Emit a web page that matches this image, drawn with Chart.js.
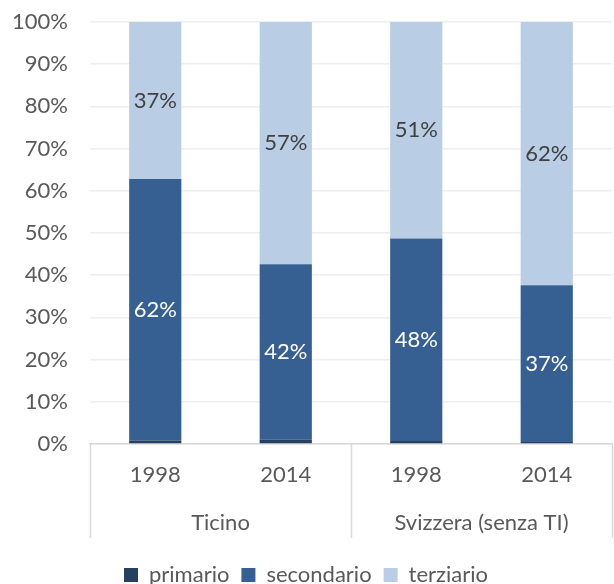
<!DOCTYPE html>
<html>
<head>
<meta charset="utf-8">
<script src="https://cdn.jsdelivr.net/npm/chart.js@4.4.1/dist/chart.umd.min.js"></script>
<style>
  html, body { margin: 0; padding: 0; background: #ffffff; }
  #wrap { width: 614px; height: 584px; position: relative; }
</style>
</head>
<body>
<div id="wrap"><canvas id="c" width="614" height="584"></canvas></div>
<script>
const years = ['1998', '2014', '1998', '2014'];
const groups = ['Ticino', 'Svizzera (senza TI)'];
const seriesNames = ['primario', 'secondario', 'terziario'];
const primario = [0.8, 1.0, 0.7, 0.5];
const secondario = [62.0, 41.6, 48.0, 37.1];
const terziario = [37.2, 57.4, 51.3, 62.4];
const yTicks = [0, 10, 20, 30, 40, 50, 60, 70, 80, 90, 100];

const FONT = 'Lato';
const TXT = '#595959';

const dataLabels = {
  id: 'dataLabels',
  afterDatasetsDraw(chart) {
    const ctx = chart.ctx;
    ctx.save();
    ctx.font = '22px ' + FONT;
    ctx.textAlign = 'center';
    ctx.textBaseline = 'middle';
    [1, 2].forEach(di => {
      const meta = chart.getDatasetMeta(di);
      const ds = chart.data.datasets[di];
      meta.data.forEach((bar, i) => {
        const v = ds.data[i];
        ctx.fillStyle = di === 1 ? '#ffffff' : '#404040';
        ctx.fillText(Math.round(v) + '%', bar.x, (bar.y + bar.base) / 2);
      });
    });
    ctx.restore();
  }
};

const groupLines = {
  id: 'groupLines',
  afterDraw(chart) {
    const x = chart.scales.x, x2 = chart.scales.x2;
    const ctx = chart.ctx;
    const mid = (x.getPixelForValue(1) + x.getPixelForValue(2)) / 2;
    ctx.save();
    ctx.strokeStyle = '#d9d9d9';
    ctx.lineWidth = 1.5;
    [x.left, mid, x.right].forEach(px => {
      ctx.beginPath();
      ctx.moveTo(Math.round(px) + 0.5, x.top);
      ctx.lineTo(Math.round(px) + 0.5, x2.top + 37);
      ctx.stroke();
    });
    ctx.restore();
  }
};

new Chart(document.getElementById('c'), {
  type: 'bar',
  data: {
    labels: years,
    datasets: [
      { label: seriesNames[0], data: primario, backgroundColor: '#254061', xAxisID: 'x' },
      { label: seriesNames[1], data: secondario, backgroundColor: '#376092', xAxisID: 'x' },
      { label: seriesNames[2], data: terziario, backgroundColor: '#b9cde5', xAxisID: 'x' }
    ]
  },
  options: {
    responsive: false,
    animation: false,
    devicePixelRatio: 1,
    barPercentage: 0.4,
    categoryPercentage: 1.0,
    layout: { padding: { top: 22, right: 2, left: 0, bottom: -12 } },
    plugins: {
      legend: {
        position: 'bottom',
        labels: {
          font: { family: FONT, size: 22 },
          color: TXT,
          boxWidth: 14,
          boxHeight: 14,
          padding: 12
        }
      },
      tooltip: { enabled: false }
    },
    scales: {
      x: {
        stacked: true,
        weight: 0,
        grid: { display: false },
        border: { display: true, color: '#d9d9d9', width: 1.5 },
        ticks: { font: { family: FONT, size: 22 }, color: TXT, padding: 10, maxRotation: 0 },
        afterFit(s) { s.height = 57; }
      },
      x2: {
        type: 'category',
        labels: groups,
        position: 'bottom',
        weight: 1,
        offset: true,
        grid: { display: false },
        border: { display: false },
        ticks: { font: { family: FONT, size: 22 }, color: TXT, padding: 1, maxRotation: 0 },
        afterFit(s) { s.height = 51; }
      },
      y: {
        stacked: true,
        min: 0,
        max: 100,
        afterBuildTicks(s) { s.ticks = yTicks.map(v => ({ value: v })); },
        grid: { color: '#eeeeee', lineWidth: 1.5, drawTicks: false },
        border: { display: false },
        ticks: {
          font: { family: FONT, size: 22 },
          color: TXT,
          padding: 22,
          callback: v => v + '%'
        },
        afterFit(s) { s.width = 90; s.paddingTop = 0; s.paddingBottom = 0; }
      }
    }
  },
  plugins: [dataLabels, groupLines]
});
</script>
</body>
</html>
